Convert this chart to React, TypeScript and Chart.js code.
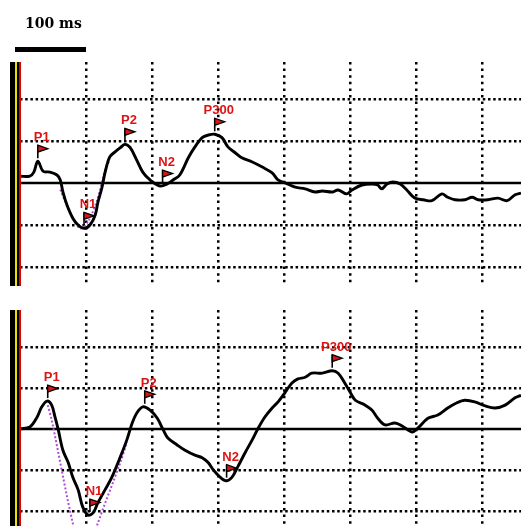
import React, { useEffect, useRef } from "react";
import { Chart, registerables } from "chart.js";

Chart.register(...registerables);

// ---- axes ----
const timeMin = 0;
const timeMax = 759; // ms
const timeTicks = [100, 200, 300, 400, 500, 600, 700];
const ampTicks = [-10, -5, 5, 10]; // µV

// ---- top panel ----
const topTimes = [0, 15, 21, 27, 35, 45, 56, 61, 65, 71, 80, 88, 97, 106, 114, 118, 124, 129, 136, 144, 152, 159, 167, 177, 186, 197, 212, 223, 232, 242, 255, 265, 276, 285, 295, 306, 315, 326, 336, 352, 367, 382, 391, 402, 417, 432, 447, 458, 473, 482, 495, 503, 518, 533, 542, 548, 556, 565, 576, 586, 598, 611, 624, 639, 648, 659, 674, 685, 694, 709, 724, 738, 750, 759];
const topAmps = [0.8, 0.83, 1.3, 2.6, 1.4, 1.3, 0.95, 0.36, -1.07, -2.6, -4.2, -5.0, -5.4, -5.0, -3.8, -2.3, -0.6, 1.3, 3.1, 3.7, 4.2, 4.6, 4.2, 2.7, 1.3, 0.36, -0.36, -0.12, 0.36, 0.95, 3.0, 4.3, 5.4, 5.7, 5.8, 5.4, 4.3, 3.6, 3.0, 2.5, 1.9, 1.2, 0.36, 0, -0.5, -0.7, -1.07, -0.95, -1.07, -0.83, -1.3, -0.83, -0.24, -0.12, -0.24, -0.7, -0.12, 0.12, -0.12, -0.83, -1.8, -2.0, -2.1, -1.3, -1.7, -2.0, -2.0, -1.7, -2.0, -2.0, -1.8, -2.1, -1.4, -1.2];
const topAltTimes = [61, 76, 91, 103, 117, 130, 136];
const topAltAmps = [-0.8, -3.5, -5.4, -4.6, -2.0, 1.8, 2.7];
const topPeakLabels = ["P1", "N1", "P2", "N2", "P300"];
const topPeakTimes = [27, 97, 159, 216, 295];
const topPeakAmps = [2.6, -5.4, 4.6, -0.36, 5.8];
const topYMin = -12.26;
const topYMax = 14.4;

// ---- bottom panel ----
const botTimes = [0, 15, 26, 33, 41, 48, 53, 58, 65, 73, 80, 88, 95, 103, 111, 118, 129, 139, 152, 162, 170, 177, 186, 197, 208, 217, 224, 238, 250, 265, 276, 285, 295, 311, 321, 330, 341, 352, 361, 371, 382, 391, 402, 412, 421, 432, 442, 458, 473, 482, 492, 500, 508, 523, 533, 542, 553, 568, 579, 594, 603, 618, 633, 648, 662, 674, 689, 705, 720, 735, 750, 759];
const botAmps = [0, 0.24, 1.46, 2.7, 3.4, 2.9, 1.46, -0.12, -2.6, -4.1, -5.9, -7.4, -9.5, -10.5, -10.2, -9.0, -7.4, -5.9, -3.4, -1.3, 0.73, 1.95, 2.7, 2.3, 1.3, -0.12, -1.1, -1.95, -2.6, -3.2, -3.5, -4.1, -5.2, -6.3, -5.9, -4.6, -2.9, -1.3, 0.12, 1.46, 2.56, 3.3, 4.5, 5.6, 6.1, 6.3, 6.8, 6.8, 7.1, 6.8, 5.6, 4.5, 3.5, 2.9, 2.3, 1.3, 0.5, 0.73, 0.37, -0.37, 0.12, 1.3, 1.7, 2.56, 3.2, 3.5, 3.3, 2.8, 2.56, 2.9, 3.8, 4.1];
const botAltTimes = [42, 48, 80, 94, 106, 117, 152, 162];
const botAltAmps = [2.9, 1.1, -11.5, -14.8, -14.8, -11.7, -4.1, -1.6];
const botPeakLabels = ["P1", "N1", "P2", "N2", "P300"];
const botPeakTimes = [42, 106, 189, 313, 473];
const botPeakAmps = [3.4, -10.5, 2.7, -6.3, 7.1];
const botYMin = -11.83;
const botYMax = 14.5;

const scaleLabel = "100 ms";
const scaleBarMs = 100;

const RED = "#dc1414";

const erpPlugin = {
  id: "erpDecor",
  afterDatasetsDraw(chart: any, _args: any, opts: any) {
    const { ctx, scales } = chart;
    const xs = scales.x;
    const ys = scales.y;
    ctx.save();
    (opts.labels || []).forEach((lab: string, i: number) => {
      const px = xs.getPixelForValue(opts.times[i]);
      const py = ys.getPixelForValue(opts.amps[i]);
      ctx.strokeStyle = "#000";
      ctx.lineWidth = 1.6;
      ctx.beginPath();
      ctx.moveTo(px, py - 3);
      ctx.lineTo(px, py - 16);
      ctx.stroke();
      ctx.beginPath();
      ctx.moveTo(px, py - 16);
      ctx.lineTo(px + 10, py - 12.5);
      ctx.lineTo(px, py - 9);
      ctx.closePath();
      ctx.fillStyle = RED;
      ctx.fill();
      ctx.lineWidth = 1.3;
      ctx.stroke();
      ctx.font = "bold 13px 'Liberation Sans', Arial, sans-serif";
      ctx.textAlign = "center";
      ctx.textBaseline = "alphabetic";
      ctx.fillStyle = RED;
      ctx.fillText(lab, px + 4, py - 20);
    });
    ctx.restore();
  },
  afterDraw(chart: any, _args: any, opts: any) {
    const { ctx, chartArea, scales } = chart;
    const top = chartArea.top;
    const h = chartArea.bottom - chartArea.top;
    const left = chartArea.left;
    ctx.save();
    ctx.fillStyle = "#000";
    ctx.fillRect(left - 10, top, 5, h);
    ctx.fillStyle = "#e8e000";
    ctx.fillRect(left - 5, top, 2, h);
    ctx.fillStyle = "#000";
    ctx.fillRect(left - 3, top, 2, h);
    ctx.fillStyle = "#e00000";
    ctx.fillRect(left - 1, top, 2, h);
    if (opts.showScale) {
      const x0 = scales.x.getPixelForValue(0);
      const x1 = scales.x.getPixelForValue(scaleBarMs);
      ctx.fillStyle = "#000";
      ctx.fillRect(x0 - 5, 47, x1 - x0 + 5, 5);
      ctx.font = "bold 14px 'DejaVu Serif', serif";
      ctx.textAlign = "left";
      ctx.textBaseline = "alphabetic";
      ctx.fillText(scaleLabel, 25, 28);
    }
    ctx.restore();
  },
};

type PanelProps = {
  top: number;
  height: number;
  padTop: number;
  padBottom: number;
  yMin: number;
  yMax: number;
  times: number[];
  amps: number[];
  altTimes: number[];
  altAmps: number[];
  peakLabels: string[];
  peakTimes: number[];
  peakAmps: number[];
  showScale: boolean;
};

function ErpPanel(p: PanelProps) {
  const ref = useRef<HTMLCanvasElement>(null);
  useEffect(() => {
    const gridCommon = {
      color: "#000",
      lineWidth: 2.5,
      drawTicks: false,
    };
    const chart = new Chart(ref.current as HTMLCanvasElement, {
      type: "line",
      data: {
        datasets: [
          {
            label: "baseline",
            data: [
              { x: timeMin, y: 0 },
              { x: timeMax, y: 0 },
            ],
            borderColor: "#000",
            borderWidth: 2.6,
            pointRadius: 0,
            order: 3,
          },
          {
            label: "alt",
            data: p.altTimes.map((t, i) => ({ x: t, y: p.altAmps[i] })),
            borderColor: "#b04cd6",
            borderWidth: 2,
            borderDash: [2, 2],
            pointRadius: 0,
            tension: 0.3,
            order: 2,
          },
          {
            label: "ERP",
            data: p.times.map((t, i) => ({ x: t, y: p.amps[i] })),
            borderColor: "#000",
            borderWidth: 2.9,
            pointRadius: 0,
            tension: 0.35,
            order: 1,
          },
        ],
      },
      options: {
        responsive: false,
        animation: false,
        events: [],
        layout: { padding: { left: 20, right: 0, top: p.padTop, bottom: p.padBottom } },
        plugins: {
          legend: { display: false },
          tooltip: { enabled: false },
          erpDecor: {
            labels: p.peakLabels,
            times: p.peakTimes,
            amps: p.peakAmps,
            showScale: p.showScale,
          },
        } as any,
        scales: {
          x: {
            type: "linear",
            min: timeMin,
            max: timeMax,
            grid: gridCommon,
            border: { display: false, dash: [2.5, 4.1] },
            ticks: { display: false },
            afterBuildTicks: (axis: any) => {
              axis.ticks = timeTicks.map((v) => ({ value: v }));
            },
          },
          y: {
            type: "linear",
            min: p.yMin,
            max: p.yMax,
            grid: gridCommon,
            border: { display: false, dash: [2.5, 2.7] },
            ticks: { display: false },
            afterBuildTicks: (axis: any) => {
              axis.ticks = ampTicks.map((v) => ({ value: v }));
            },
          },
        },
      },
      plugins: [erpPlugin],
    });
    return () => chart.destroy();
  }, []);
  return (
    <div style={{ position: "absolute", left: 0, top: p.top, width: 521, height: p.height }}>
      <canvas ref={ref} width={521} height={p.height} style={{ display: "block" }} />
    </div>
  );
}

export default function App() {
  return (
    <div style={{ position: "absolute", left: 0, top: 0, width: 521, height: 526, background: "#fff", overflow: "hidden" }}>
      <ErpPanel
        top={0}
        height={300}
        padTop={62}
        padBottom={14}
        yMin={topYMin}
        yMax={topYMax}
        times={topTimes}
        amps={topAmps}
        altTimes={topAltTimes}
        altAmps={topAltAmps}
        peakLabels={topPeakLabels}
        peakTimes={topPeakTimes}
        peakAmps={topPeakAmps}
        showScale={true}
      />
      <ErpPanel
        top={300}
        height={226}
        padTop={10}
        padBottom={0}
        yMin={botYMin}
        yMax={botYMax}
        times={botTimes}
        amps={botAmps}
        altTimes={botAltTimes}
        altAmps={botAltAmps}
        peakLabels={botPeakLabels}
        peakTimes={botPeakTimes}
        peakAmps={botPeakAmps}
        showScale={false}
      />
    </div>
  );
}
